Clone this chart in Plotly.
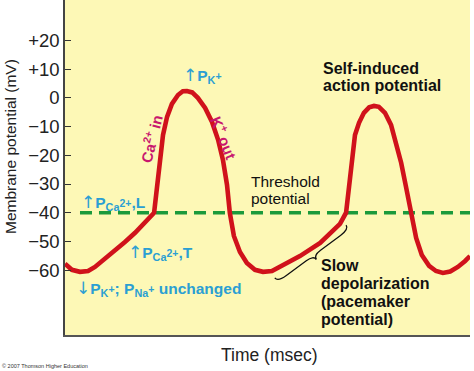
import plotly.graph_objects as go

# ---------------- data ----------------
time_ms = [0, 17, 37, 57, 74, 99, 123, 148, 173, 197, 220, 225, 230, 235, 242,
           252, 264, 279, 291, 301, 314, 328, 346, 363, 378, 390, 400, 407, 417,
           432, 449, 469, 489, 511, 536, 580, 630, 654, 679, 694, 699, 704, 709,
           716, 726, 738, 751, 763, 775, 790, 805, 817, 830, 842, 854, 867, 881,
           899, 916, 933, 951, 970, 988, 1000]
membrane_mv = [-57.8, -59.9, -60.6, -60.3, -58.9, -56.1, -53.3, -50.2, -47.0,
               -43.6, -40.0, -33.8, -26.8, -19.9, -12.9, -6.6, -2.1, 1.0, 2.3,
               2.4, 1.9, 0.0, -3.5, -8.4, -14.6, -21.6, -30.3, -40.1, -48.1,
               -53.7, -57.5, -59.9, -60.6, -60.3, -58.5, -55.1, -50.5, -47.4,
               -43.9, -40.0, -33.8, -25.8, -18.8, -12.9, -8.7, -5.2, -3.3, -2.8,
               -3.1, -5.2, -9.4, -15.3, -22.6, -31.0, -40.1, -48.8, -54.7, -58.5,
               -60.3, -61.0, -60.5, -58.9, -56.8, -55.1]

threshold_mv = -40
threshold_span_ms = [37, 1000]

y_tick_values = [-60, -50, -40, -30, -20, -10, 0, 10, 20]
y_tick_labels = ["\u221260", "\u221250", "\u221240", "\u221230", "\u221220",
                 "\u221210", "0", "+10", "+20"]

# slow depolarization brace (time span and mV at its ends)
brace_ms = [518, 694]
brace_mv = [-62.7, -44.3]

# ---------------- styling ----------------
W, H = 474, 371
ML, MR, MT, MB = 65, 4, 0, 36
X_RANGE = [0, 1000]
Y_RANGE = [-82.6, 34.1]
RED = "#d0121b"
GREEN = "#1b9a3b"
CYAN = "#2b9fd3"
MAGENTA = "#c8176e"
YELLOW = "#fdf8b6"
FONT = "Liberation Sans, Arial, sans-serif"

fig = go.Figure()
fig.add_trace(go.Scatter(x=threshold_span_ms, y=[threshold_mv] * 2, mode="lines",
                         line=dict(color=GREEN, width=3.5, dash="12px,7px"),
                         hoverinfo="skip", showlegend=False))
fig.add_trace(go.Scatter(x=time_ms, y=membrane_mv, mode="lines",
                         line=dict(color=RED, width=4.6),
                         showlegend=False))

pw, ph = W - ML - MR, H - MT - MB


def px2paper(x, y):
    return (x - ML) / pw, (ph + MT - y) / ph


def data2px(t, v):
    x = ML + (t - X_RANGE[0]) / (X_RANGE[1] - X_RANGE[0]) * pw
    y = MT + (Y_RANGE[1] - v) / (Y_RANGE[1] - Y_RANGE[0]) * ph
    return x, y


# brace path
ax_, ay_ = data2px(brace_ms[0], brace_mv[0])
bx_, by_ = data2px(brace_ms[1], brace_mv[1])
L = ((bx_ - ax_) ** 2 + (by_ - ay_) ** 2) ** 0.5
ux, uy = (bx_ - ax_) / L, (by_ - ay_) / L
nx, ny = -uy, ux
if ny < 0:
    nx, ny = -nx, -ny
d = 10.0


def loc(s, h):
    x = ax_ + ux * s + nx * h
    y = ay_ + uy * s + ny * h
    px, py = px2paper(x, y)
    return f"{px:.4f},{py:.4f}"


path = (f"M{loc(0, 0)} Q{loc(0, d/2)} {loc(L*0.12, d/2)} L{loc(L*0.40, d/2)} "
        f"Q{loc(L*0.5, d/2)} {loc(L*0.5, d)} Q{loc(L*0.5, d/2)} {loc(L*0.60, d/2)} "
        f"L{loc(L*0.88, d/2)} Q{loc(L, d/2)} {loc(L, 0)}")
fig.add_shape(type="path", path=path, xref="paper", yref="paper",
              line=dict(color="#111", width=1.3))


def ann(text, x, y, size=16, color="#111", bold=False, xanchor="left",
        angle=0):
    px, py = px2paper(x, y)
    fig.add_annotation(text=f"<b>{text}</b>" if bold else text, x=px, y=py,
                       xref="paper", yref="paper", showarrow=False,
                       xanchor=xanchor, yanchor="middle", textangle=angle,
                       font=dict(family=FONT, size=size, color=color),
                       borderpad=0)


SUP = '<span style="font-size:10.5px">{}</span>'
ARROW = ('<span style="font-family:DejaVu Sans;font-size:17px;'
         'font-weight:normal">{}</span>')
UP = ARROW.format("\u2191")
DOWN = ARROW.format("\u2193")

# black labels
ann("Self-induced", 322, 68, 16, bold=True)
ann("action potential", 322, 85.5, 16, bold=True)
ann("Threshold", 250, 181, 15.5)
ann("potential", 250, 198, 15.5)
ann("Slow", 320, 265, 16, bold=True)
ann("depolarization", 320, 283, 16, bold=True)
ann("(pacemaker", 320, 301, 16, bold=True)
ann("potential)", 320, 319, 16, bold=True)

# cyan permeability labels
ann(UP + "P<sub>Ca<sup>" + SUP.format("2+") + "</sup></sub>,L", 80, 203, 15.5,
    CYAN, bold=True)
ann(UP + "P<sub>Ca<sup>" + SUP.format("2+") + "</sup></sub>,T", 127, 252, 15.5,
    CYAN, bold=True)
ann(DOWN + "P<sub>K<sup>" + SUP.format("+") + "</sup></sub>; P<sub>Na<sup>"
    + SUP.format("+") + "</sup></sub> unchanged", 75, 288, 15.5, CYAN, bold=True)
ann(UP + "P<sub>K<sup>" + SUP.format("+") + "</sup></sub>", 182, 75, 15.5,
    CYAN, bold=True)

# rotated ion labels
ann("Ca<sup>2+</sup> in", 151, 139, 15, MAGENTA, bold=True, xanchor="center",
    angle=-76)
ann("K<sup>+</sup> out", 225, 137, 15, MAGENTA, bold=True, xanchor="center",
    angle=68)

# axis titles
ann("Membrane potential (mV)", 10, 147, 15.5, "#222", xanchor="center",
    angle=-90)
ann("Time (msec)", 269, 355, 17.5, "#222", xanchor="center")
ann("\u00a9 2007 Thomson Higher Education", 1, 366, 5.5, "#333")

fig.update_layout(
    width=W, height=H, autosize=False,
    margin=dict(l=ML, r=MR, t=MT, b=MB, pad=0),
    paper_bgcolor="white", plot_bgcolor=YELLOW,
    showlegend=False,
    xaxis=dict(range=X_RANGE, showticklabels=False, showgrid=False,
               zeroline=False, showline=True, linecolor="#555", linewidth=1.5,
               ticks="", fixedrange=True),
    yaxis=dict(range=Y_RANGE, tickvals=y_tick_values, ticktext=y_tick_labels,
               ticks="inside", ticklen=6, tickwidth=1.2, tickcolor="#333",
               showline=True, linecolor="#444", linewidth=1.5, showgrid=False,
               zeroline=False, tickfont=dict(family=FONT, size=18.5, color="#222"),
               fixedrange=True),
)

fig.write_html("out.html",
               config={"displayModeBar": False},
               post_script="document.body.style.margin='0';"
                           "document.body.style.overflow='hidden';")
